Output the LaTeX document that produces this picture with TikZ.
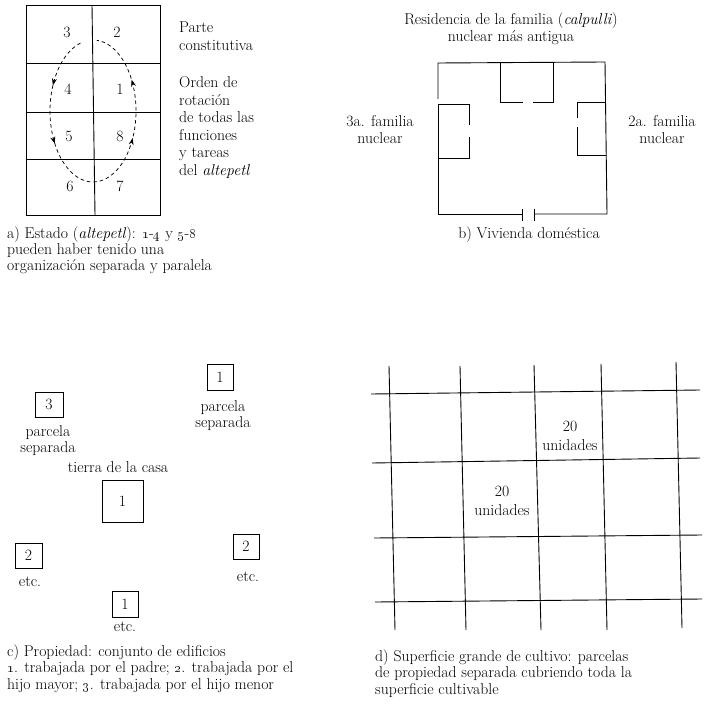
\documentclass[tikz,border=0pt]{standalone}
\usetikzlibrary{decorations.markings,arrows.meta}
\begin{document}
\begin{tikzpicture}[x=1pt,y=-1pt,
  txt/.style={font=\fontsize{15.7}{16}\selectfont, inner sep=0pt},
  captext/.style={txt, anchor=base west, align=left},
  wall/.style={line width=0.9pt},
  pbox/.style={draw, line width=0.8pt, inner sep=0pt, font=\fontsize{15.7}{17}\selectfont},
  arrowmark/.style={postaction={decorate}, decoration={markings,
     mark=at position 0.15 with {\arrow{Stealth[length=7pt,width=5pt]}},
     mark=at position 0.32 with {\arrow{Stealth[length=7pt,width=5pt]}},
     mark=at position 0.67 with {\arrow{Stealth[length=7pt,width=5pt]}},
     mark=at position 0.84 with {\arrow{Stealth[length=7pt,width=5pt]}}}}
]
\useasboundingbox (0,0) rectangle (703,708);
\fill[white] (0,0) rectangle (703,708);

% ---------- panel a ----------
\draw[wall] (26,5) rectangle (160,215);
\draw[wall] (92,5) -- (95,215);
\draw[wall] (26,63) -- (160,63);
\draw[wall] (26,112) -- (160,112);
\draw[wall] (26,159) -- (160,159);
\node[txt] (a3) at (67,32) {3};
\node[txt] (a2) at (117,32) {2};
\node[txt] (a4) at (68,89) {4};
\node[txt] (a1) at (120,89) {1};
\node[txt] (a5) at (69,136) {5};
\node[txt] (a8) at (120,136) {8};
\node[txt] (a6) at (70,186) {6};
\node[txt] (a7) at (120,186) {7};
\coordinate (ellstart) at (80.43,43.1);
\draw[line width=0.75pt, dash pattern=on 3.5pt off 3pt, arrowmark]
  (ellstart) arc[start angle=107, end angle=445, x radius=43pt, y radius=71pt];
% multi-line nodes: anchor=base is the baseline of the LAST line
\node[txt, anchor=base west, align=left, font=\fontsize{15.7}{17.5}\selectfont] (aparte) at (179,50.5) {Parte\\constitutiva};
\node[txt, anchor=base west, align=left, font=\fontsize{15.7}{17.5}\selectfont] (aorden) at (179,175.5)
  {Orden de\\rotación\\de todas las\\funciones\\y tareas\\del \textit{altepetl}};
\node[captext, font=\fontsize{15.7}{16}\selectfont] (capa) at (7,270)
  {a) Estado (\textit{altepetl}): \oldstylenums{1}-\oldstylenums{4} y \oldstylenums{5}-\oldstylenums{8}\\pueden haber tenido una\\organización separada y paralela};

% ---------- panel b ----------
\node[txt, align=center, anchor=base, font=\fontsize{15.7}{16.5}\selectfont] (btitle) at (511,41.5)
  {Residencia de la familia (\textit{calpulli})\\nuclear más antigua};
\draw[wall] (438,99) -- (438,63) -- (605,62) -- (607,214) -- (534,214);
\draw[wall] (534,209) -- (534,221);
\draw[wall] (522,209) -- (522,221);
\draw[wall] (522,214) -- (438,214) -- (438,104) -- (469,104) -- (469,125);
\draw[wall] (469,137) -- (469,158) -- (438,158);
\draw[wall] (500,63) -- (500,102) -- (523,102);
\draw[wall] (533,102) -- (553,102) -- (553,63);
\draw[wall] (605,102) -- (577,102) -- (577,118);
\draw[wall] (577,127) -- (577,155) -- (606,155);
\node[txt, align=center, anchor=base, font=\fontsize{15.7}{17}\selectfont] (b3a) at (380,144) {3a. familia\\nuclear};
\node[txt, align=center, anchor=base, font=\fontsize{15.7}{17}\selectfont] (b2a) at (662,144) {2a. familia\\nuclear};
\node[txt, anchor=base] (capb) at (529,239) {b) Vivienda doméstica};

% ---------- panel c ----------
\node[pbox, minimum width=28pt, minimum height=25pt] (c3) at (49,404.5) {3};
\node[txt, align=center, anchor=base] (c3t) at (48,452) {parcela\\separada};
\node[pbox, minimum width=26pt, minimum height=26pt] (c1a) at (220,377) {1};
\node[txt, align=center, anchor=base] (c1at) at (223,427) {parcela\\separada};
\node[txt, anchor=base] (ctierra) at (118,472) {tierra de la casa};
\node[pbox, minimum width=41pt, minimum height=42pt] (c1c) at (122.5,501) {1};
\node[pbox, minimum width=27pt, minimum height=25pt] (c2l) at (28.5,555.5) {2};
\node[txt, anchor=base] (c2lt) at (30,586) {etc.};
\node[pbox, minimum width=26pt, minimum height=25pt] (c2r) at (246,546.5) {2};
\node[txt, anchor=base] (c2rt) at (248,581) {etc.};
\node[pbox, minimum width=26pt, minimum height=26pt] (c1b) at (125,604) {1};
\node[txt, anchor=base] (c1bt) at (125,631) {etc.};
\node[captext, font=\fontsize{15.7}{16.5}\selectfont] (capc) at (7,689)
  {c) Propiedad: conjunto de edificios\\\oldstylenums{1}. trabajada por el padre; \oldstylenums{2}. trabajada por el\\hijo mayor; \oldstylenums{3}. trabajada por el hijo menor};

% ---------- panel d ----------
\draw[wall] (389,366) -- (395,630);
\draw[wall] (460,366) -- (466,630);
\draw[wall] (534,365) -- (541,630);
\draw[wall] (601,364) -- (607,630);
\draw[wall] (676,362) -- (682,628);
\draw[wall] (371,394) -- (700,390);
\draw[wall] (372,463) -- (700,458);
\draw[wall] (374,538) -- (702,535);
\draw[wall] (375,602) -- (702,599);
\node[txt, align=center, anchor=base, font=\fontsize{15.7}{19}\selectfont] (d20a) at (570,450) {20\\unidades};
\node[txt, align=center, anchor=base, font=\fontsize{15.7}{19}\selectfont] (d20b) at (502,515) {20\\unidades};
\node[captext, font=\fontsize{15.7}{16.5}\selectfont] (capd) at (375,694)
  {d) Superficie grande de cultivo: parcelas\\de propiedad separada cubriendo toda la\\superficie cultivable};
\end{tikzpicture}
\end{document}
